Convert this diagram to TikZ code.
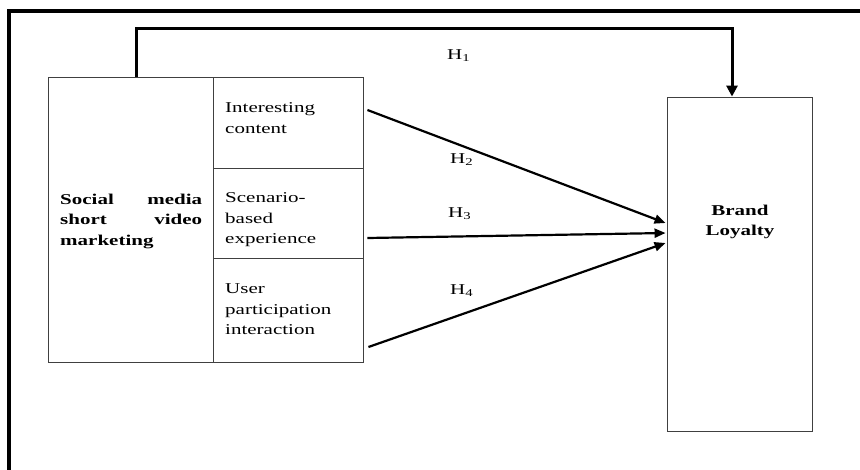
\documentclass[tikz,border=0pt]{standalone}
\usepackage{fontspec}
\setmainfont{Liberation Serif}[FakeStretch=1.4]
\usetikzlibrary{arrows.meta}

\begin{document}
\begin{tikzpicture}[%
      x=1pt, y=-1pt,
      box/.style={draw=black!75, line width=0.9pt, inner sep=0pt},
      txt/.style={inner sep=0pt, align=left, font=\fontsize{15pt}{20.5pt}\selectfont},
      hyp/.style={inner sep=0pt, anchor=base west, font=\fontsize{15pt}{18pt}\selectfont},
      hyparrow/.style={line width=2.2pt, -{Triangle[length=11pt,width=9pt]}},
      ]
      \useasboundingbox (0,0) rectangle (860,469);
      \draw [line width=4pt] (9,472) -- (9,11) -- (862,11);

      \node [box, minimum width=165pt, minimum height=285pt] (smvm) at (130.5,219.5) {};
      \node [box, minimum width=150pt, minimum height=91pt] (ic) at (288,122.5) {};
      \node [box, minimum width=150pt, minimum height=90pt] (sbe) at (288,213) {};
      \node [box, minimum width=150pt, minimum height=104pt] (upi) at (288,310) {};
      \node [box, minimum width=145pt, minimum height=334pt] (bl) at (739.5,264) {};

      \node [txt, anchor=north west] (smvmtext) at (60,193.7)
            {\bfseries\makebox[142pt][s]{Social media}\\
             \bfseries\makebox[142pt][s]{short video}\\
             \bfseries marketing};
      \node [txt, anchor=north west] (ictext) at (225,102.7) {Interesting\\content};
      \node [txt, anchor=north west] (sbetext) at (225,192.7) {Scenario-\\based\\experience};
      \node [txt, anchor=north west] (upitext) at (225,283.7) {User\\participation\\interaction};
      \node [txt, anchor=north, align=center] (bltext) at (740,204.7) {\bfseries Brand\\\bfseries Loyalty};

      \draw [line width=3pt, -{Triangle[length=11pt,width=11pt]}]
            ([xshift=5.5pt]smvm.north) -- ++(0,-48) -| ([xshift=-7.5pt]bl.north);
      \draw [hyparrow] ([xshift=4pt,yshift=12.5pt]ic.east) -- ([xshift=-1pt,yshift=41pt]bl.west);
      \draw [hyparrow] ([xshift=4pt,yshift=-25pt]sbe.east) -- ([xshift=-1pt,yshift=31pt]bl.west);
      \draw [hyparrow] ([xshift=5pt,yshift=-37pt]upi.east) -- ([xshift=-1pt,yshift=21pt]bl.west);

      \node [hyp] (h1) at (447,59) {H\textsubscript{1}};
      \node [hyp] (h2) at (450,163) {H\textsubscript{2}};
      \node [hyp] (h3) at (448,217) {H\textsubscript{3}};
      \node [hyp] (h4) at (450,294) {H\textsubscript{4}};
      \end{tikzpicture}
\end{document}
